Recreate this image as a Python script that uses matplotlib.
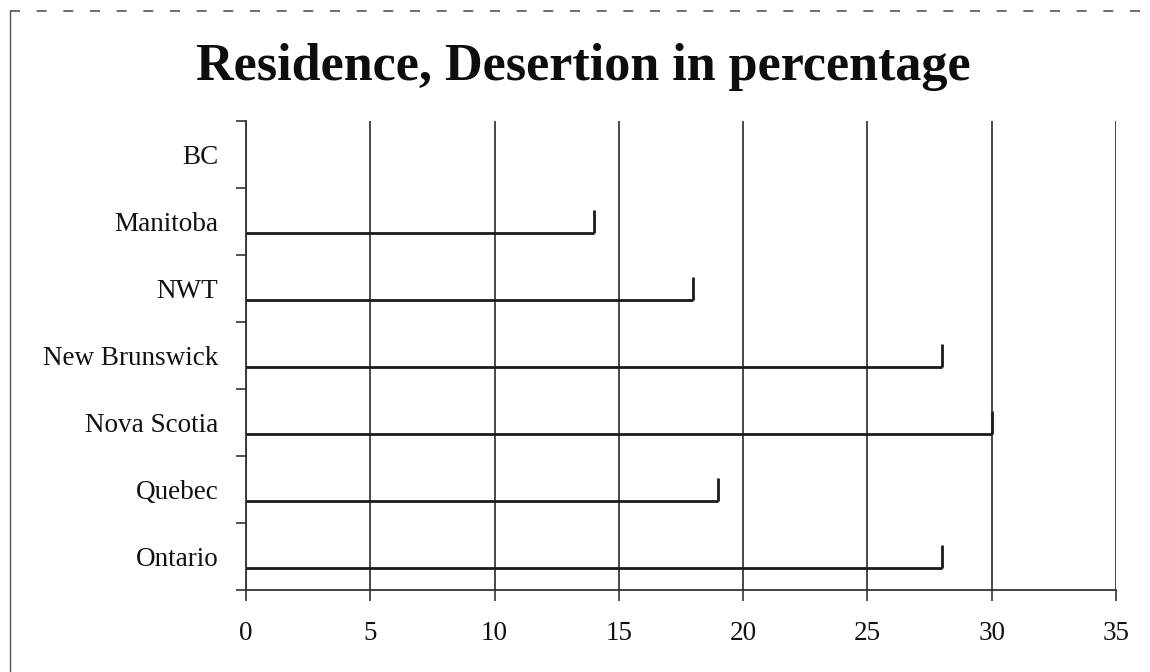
import matplotlib
matplotlib.use("Agg")
import matplotlib.pyplot as plt
from matplotlib.lines import Line2D
from matplotlib.ticker import FixedLocator, NullFormatter

# Desertion share by province / territory (percent)
provinces = ["BC", "Manitoba", "NWT", "New Brunswick", "Nova Scotia", "Quebec", "Ontario"]
desertion = [0, 14, 18, 28, 30, 19, 28]
x_ticks = [0, 5, 10, 15, 20, 25, 30, 35]

title = "Residence, Desertion in percentage"
serif = ["Liberation Serif", "DejaVu Serif"]
ink = "#1a1a1a"

fig = plt.figure(figsize=(11.5, 6.72), dpi=100)
ax = fig.add_axes([246 / 1150, 1 - 590 / 672, (1116 - 246) / 1150, (590 - 121) / 672])

n = len(provinces)
ypos = list(range(n))[::-1]  # first province at the top
bar_h = 0.33

# Bars are drawn as open outlines: baseline along the bottom and a closing edge on the right
bars = ax.barh(ypos, desertion, height=bar_h, left=0, facecolor="none",
               edgecolor="none", linewidth=0, zorder=3)
for rect in bars:
    x0, y0 = rect.get_x(), rect.get_y()
    w, h = rect.get_width(), rect.get_height()
    if w <= 0:
        continue
    ax.plot([x0, x0 + w], [y0, y0], color=ink, lw=2.0, solid_capstyle="butt", zorder=4)
    ax.plot([x0 + w, x0 + w], [y0, y0 + h], color=ink, lw=2.0, solid_capstyle="butt", zorder=4)

ax.set_xlim(0, 35)
ax.set_ylim(-0.5, n - 0.5)

# Vertical gridlines
ax.xaxis.set_major_locator(FixedLocator(x_ticks))
ax.grid(axis="x", color="#3a3a3a", lw=1.3, zorder=1)
ax.grid(axis="y", visible=False)
ax.set_axisbelow(True)

# Category labels at centres, tick marks at category boundaries
ax.set_yticks(ypos)
ax.set_yticklabels(provinces)
ax.yaxis.set_minor_locator(FixedLocator([i - 0.5 for i in range(n + 1)]))
ax.yaxis.set_minor_formatter(NullFormatter())
ax.tick_params(axis="y", which="major", length=0, pad=20, labelsize=19.5)
ax.tick_params(axis="y", which="minor", length=7, width=1.2, color="#333333")
ax.tick_params(axis="x", which="major", length=8, width=1.2, color="#333333",
               pad=14, labelsize=19.5)
for lab in ax.get_xticklabels() + ax.get_yticklabels():
    lab.set_fontfamily(serif)
    lab.set_color("#111111")

for side in ("top", "right"):
    ax.spines[side].set_visible(False)
for side in ("left", "bottom"):
    ax.spines[side].set_color("#333333")
    ax.spines[side].set_linewidth(1.3)

fig.text(0.507, 1 - 80 / 672, title, ha="center", va="baseline",
         fontsize=37.5, fontweight="bold", family=serif, color="#0d0d0d")

# Chart-area border (left edge and top edge)
fig.add_artist(Line2D([10 / 1150, 10 / 1150], [1 - 11 / 672, 0], transform=fig.transFigure,
                      color="#555555", lw=1.0))
fig.add_artist(Line2D([10 / 1150, 1145 / 1150], [1 - 11 / 672, 1 - 11 / 672],
                      transform=fig.transFigure, color="#555555", lw=1.2,
                      linestyle=(0, (6, 10))))

fig.savefig("out.png", dpi=100, facecolor="white")
